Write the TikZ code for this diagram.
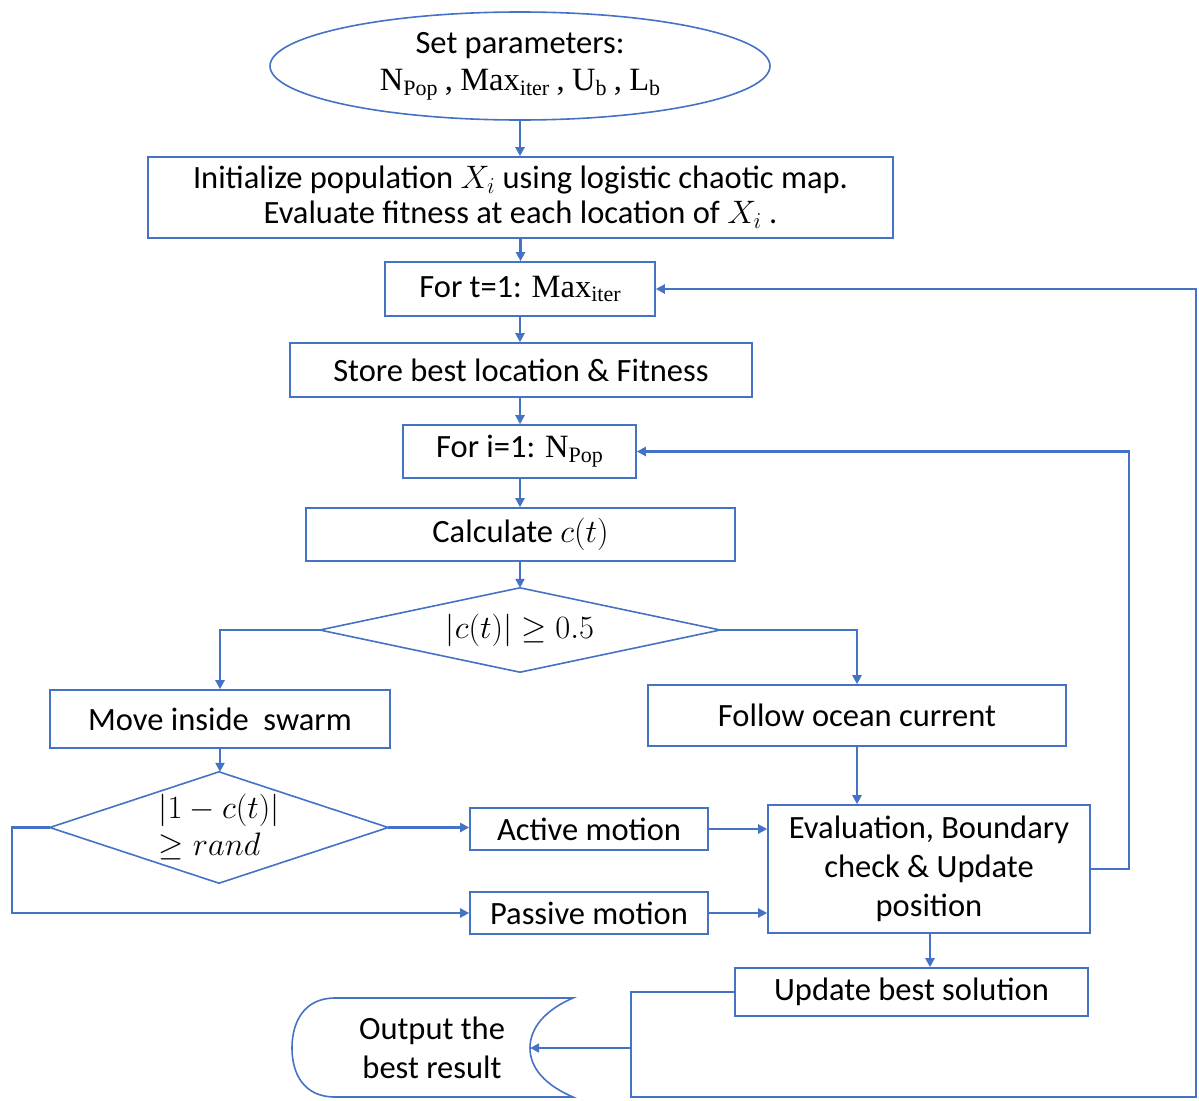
\RequirePackage{fix-cm}
\documentclass[tikz,border=0pt]{standalone}
\usepackage[no-math]{fontspec}
\setmainfont{Carlito}
\newfontfamily\srf{Liberation Serif}
\newcommand{\sbx}[2]{{\srf #1\raisebox{-0.32ex}{\fontsize{22}{22}\selectfont #2}}}
\usetikzlibrary{shapes.geometric,arrows.meta,calc}
\definecolor{fblue}{RGB}{68,114,196}
\begin{document}
\begin{tikzpicture}[x=1pt,y=-1pt,
  every node/.style={font=\fontsize{32.5}{39}\selectfont, text=black},
  box/.style={draw=fblue, line width=1.6pt, rectangle, inner sep=0pt, align=center},
  ell/.style={draw=fblue, line width=1.6pt, ellipse, inner sep=0pt, align=center},
  dia/.style={rectangle, inner sep=0pt, align=center},
  dline/.style={draw=fblue, line width=1.6pt},
  arr/.style={draw=fblue, line width=2.2pt, -{Triangle[length=9pt,width=9pt]}}]
\useasboundingbox (0,0) rectangle (1199,1100);

\node[ell, minimum width=500, minimum height=108] (set) at (520,66)
  {Set parameters:\\[-2pt] \sbx{N}{Pop} {\srf,} \sbx{Max}{iter} {\srf,} \sbx{U}{b} {\srf,} \sbx{L}{b}};
\node[box, minimum width=745, minimum height=81] (init) at (520.5,197.5)
  {Initialize population $X_i$ using logistic chaotic map.\\[-4pt] Evaluate fitness at each location of $X_i$ .};
\node[box, minimum width=270, minimum height=54] (fort) at (520,289) {For t=1: \sbx{Max}{iter}};
\node[box, minimum width=462, minimum height=54] (store) at (521,370) {Store best location \& Fitness};
\node[box, minimum width=233, minimum height=53] (fori) at (519.5,451.5) {For i=1: \sbx{N}{Pop}};
\node[box, minimum width=429, minimum height=53] (calc) at (520.5,534.5) {Calculate $c(t)$};
\node[dia, minimum width=400, minimum height=84] (dia1) at (520,630) {$|c(t)|\geq 0.5$};
\draw[dline] (dia1.north) -- (dia1.east) -- (dia1.south) -- (dia1.west) -- cycle;
\node[box, minimum width=340, minimum height=58] (move) at (220,719) {Move inside~ swarm};
\node[box, minimum width=418, minimum height=61] (follow) at (857,715.5) {Follow ocean current};
\node[dia, minimum width=338, minimum height=111, align=left] (dia2) at (219,827.5)
  {$|1-c(t)|$\\[-2pt] $\geq rand$};
\draw[dline] (dia2.north) -- (dia2.east) -- (dia2.south) -- (dia2.west) -- cycle;
\node[box, minimum width=238, minimum height=42] (active) at (589,829) {Active motion};
\node[box, minimum width=238, minimum height=42] (passive) at (589,913) {Passive motion};
\node[box, minimum width=322, minimum height=128] (eval) at (929,869)
  {Evaluation, Boundary\\ check \& Update\\ position};
\node[box, minimum width=353, minimum height=48] (update) at (911.5,992) {Update best solution};
\node[minimum width=196, minimum height=99, inner sep=0pt, align=center] (out) at (432,1048)
  {Output the\\ best result};
\draw[dline]
  (335,998) .. controls (304,998) and (292,1022) .. (292,1048)
  .. controls (292,1074) and (304,1097) .. (335,1097) -- (573,1097)
  .. controls (545,1085) and (530,1068) .. (530,1048)
  .. controls (530,1028) and (545,1010) .. (573,998) -- cycle;

\coordinate (c1) at (631,1097);
\coordinate (c2) at (1196,1097);

\draw[arr] (set.south) -- (set.south |- init.north);
\draw[arr] (init.south) -- (init.south |- fort.north);
\draw[arr] (fort.south) -- (fort.south |- store.north);
\draw[arr] (store.south -| fort.south) -- (fort.south |- fori.north);
\draw[arr] (fori.south -| fort.south) -- (fort.south |- calc.north);
\draw[arr] (calc.south -| fort.south) -- (fort.south |- dia1.north);
\draw[arr] (dia1.west) -| (move.north);
\draw[arr] (dia1.east) -| (follow.north);
\draw[arr] (move.south) -- (move.south |- dia2.north);
\draw[arr] (dia2.east) -- (dia2.east -| active.west);
\draw[arr] (dia2.west) -- ++(-38,0) |- (passive.west);
\draw[arr] (active.east) -- (active.east -| eval.west);
\draw[arr] (passive.east) -- (passive.east -| eval.west);
\draw[arr] (follow.south) -- (follow.south |- eval.north);
\draw[arr] (eval.east) -- ++(38,0) |- (fori.east);
\draw[arr] ([xshift=1pt]eval.south) -- ([xshift=1pt]eval.south |- update.north);
\draw[arr] (update.west) -| (c1) -- (c2) |- (fort.east);
\draw[arr] (c1 |- out.east) -- (out.east);
\end{tikzpicture}
\end{document}
